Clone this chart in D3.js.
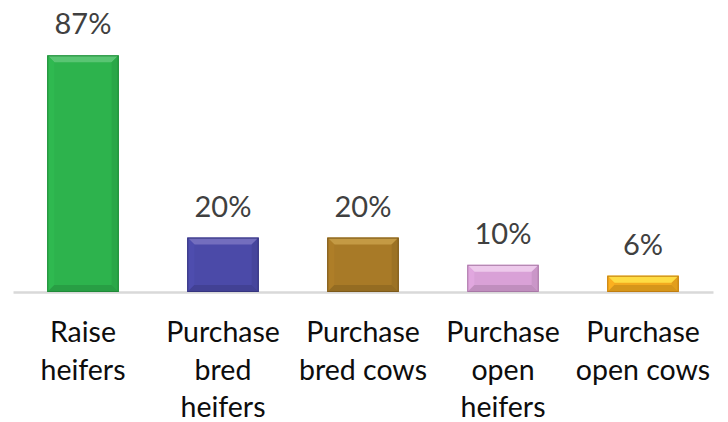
<!DOCTYPE html>
<html><head><meta charset="utf-8">
<script src="https://cdn.jsdelivr.net/npm/d3@7"></script>
<style>html,body{margin:0;padding:0;background:#fff;}svg{display:block;}</style>
</head><body>
<svg id="chart" width="728" height="422"></svg>
<script>
const categories = ["Raise heifers", "Purchase bred heifers", "Purchase bred cows", "Purchase open heifers", "Purchase open cows"];
const categoryLines = [["Raise", "heifers"], ["Purchase", "bred", "heifers"], ["Purchase", "bred cows"], ["Purchase", "open", "heifers"], ["Purchase", "open cows"]];
const values = [87, 20, 20, 10, 6];
const valueLabels = ["87%", "20%", "20%", "10%", "6%"];
const barColors = ["#2db34d", "#4b4aa8", "#a87a27", "#d9a1d7", "#f3aa1e"];
const topColors = ["#62c87a", "#7a74c2", "#c9a04a", "#f0d0ee", "#ffe54a"];
const edgeColors = ["#1f8a38", "#35347e", "#7c591a", "#a878a6", "#c07d10"];

const svg = d3.select("#chart");
const x = d3.scaleBand().domain(categories).range([13, 713]).paddingInner(0.49).paddingOuter(0.245);
const y = d3.scaleLinear().domain([0, 100]).range([292, 20]);

// axis baseline
svg.append("g").attr("transform", `translate(0,${y(0)})`)
  .call(d3.axisBottom(x).tickSize(0).tickFormat(""))
  .call(g => g.select(".domain").attr("stroke", "#d9d9d9").attr("stroke-width", 2.5));

const bars = svg.append("g").selectAll("g").data(categories).join("g");

bars.each(function(c, i) {
  const g = d3.select(this);
  const x0 = x(c), x1 = x(c) + x.bandwidth();
  const y0 = y(values[i]), y1 = y(0);
  const b = Math.min(7, (y1 - y0) / 2 - 1);
  g.append("rect").attr("x", x0).attr("y", y0).attr("width", x1 - x0).attr("height", y1 - y0)
    .attr("fill", barColors[i]);
  g.append("path").attr("d", `M${x0},${y0}L${x1},${y0}L${x1 - b},${y0 + b}L${x0 + b},${y0 + b}Z`)
    .attr("fill", topColors[i]).attr("opacity", 0.85);
  g.append("path").attr("d", `M${x0},${y0}L${x0 + b},${y0 + b}L${x0 + b},${y1 - b}L${x0},${y1}Z`)
    .attr("fill", d3.color(barColors[i]).brighter(0.1));
  g.append("path").attr("d", `M${x1},${y0}L${x1 - b},${y0 + b}L${x1 - b},${y1 - b}L${x1},${y1}Z`)
    .attr("fill", d3.color(barColors[i]).darker(0.2));
  g.append("path").attr("d", `M${x0},${y1}L${x0 + b},${y1 - b}L${x1 - b},${y1 - b}L${x1},${y1}Z`)
    .attr("fill", d3.color(barColors[i]).darker(0.35));
  g.append("rect").attr("x", x0 + 0.5).attr("y", y0 + 0.5).attr("width", x1 - x0 - 1).attr("height", y1 - y0 - 1)
    .attr("fill", "none").attr("stroke", edgeColors[i]).attr("stroke-width", 1);
});

// value labels
svg.append("g").selectAll("text").data(categories).join("text")
  .attr("x", c => x(c) + x.bandwidth() / 2)
  .attr("y", (c, i) => y(values[i]) - 21)
  .attr("text-anchor", "middle")
  .attr("font-family", "Lato, 'Open Sans', sans-serif")
  .attr("font-size", 29)
  .attr("fill", "#404040")
  .text((c, i) => valueLabels[i]);

// category labels
const cl = svg.append("g").selectAll("text").data(categories).join("text")
  .attr("x", c => x(c) + x.bandwidth() / 2)
  .attr("y", 342)
  .attr("text-anchor", "middle")
  .attr("font-family", "Lato, 'Open Sans', sans-serif")
  .attr("font-size", 28.5)
  .attr("fill", "#0d0d0d");
cl.each(function(c, i) {
  const t = d3.select(this);
  categoryLines[i].forEach((ln, j) => {
    t.append("tspan").attr("x", x(c) + x.bandwidth() / 2).attr("y", 342 + j * 37.5).text(ln);
  });
});
</script>
</body></html>
